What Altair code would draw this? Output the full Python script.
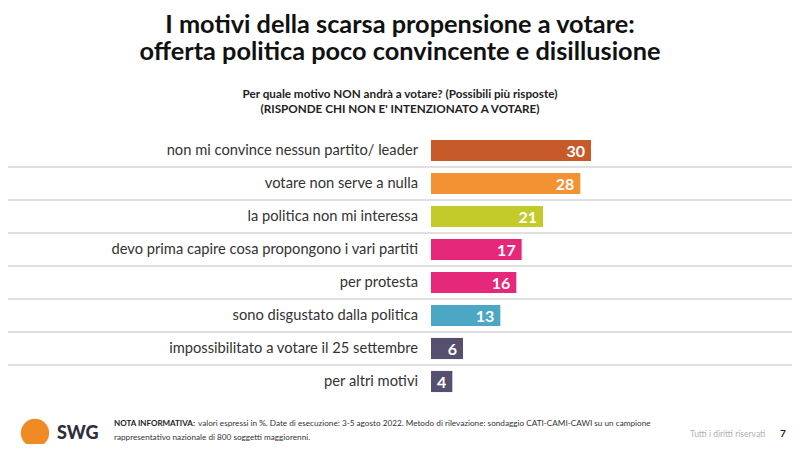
import altair as alt
import pandas as pd

# ---- data ----
motivi = [
    "non mi convince nessun partito/ leader",
    "votare non serve a nulla",
    "la politica non mi interessa",
    "devo prima capire cosa propongono i vari partiti",
    "per protesta",
    "sono disgustato dalla politica",
    "impossibilitato a votare il 25 settembre",
    "per altri motivi",
]
valori = [30, 28, 21, 17, 16, 13, 6, 4]

title_lines = [
    "I motivi della scarsa propensione a votare:",
    "offerta politica poco convincente e disillusione",
]
subtitle_lines = [
    "Per quale motivo NON andrà a votare? (Possibili più risposte)",
    "(RISPONDE CHI NON E' INTENZIONATO A VOTARE)",
]
nota_bold = "NOTA INFORMATIVA:"
nota_lines = [
    "valori espressi in %. Date di esecuzione: 3-5 agosto 2022. Metodo di rilevazione: sondaggio CATI-CAMI-CAWI su un campione",
    "rappresentativo nazionale di 800 soggetti maggiorenni.",
]
logo_text = "SWG"
diritti = "Tutti i diritti riservati"
pagina = "7"

# ---- style ----
bar_colors = ["#C65A28", "#F39232", "#C3CB2B", "#E6287A", "#E6287A", "#4BA7C4", "#574F6E", "#574F6E"]
FONT = "Lato"
OFF = 8  # page margin
W, H = 784, 436

df = pd.DataFrame({"motivo": motivi, "valore": valori})

x_scale = alt.Scale(domain=[0, 30], range=[431 - OFF, 591 - OFF], nice=False, zero=True)
y_scale = alt.Scale(domain=motivi, range=[134 - OFF, 398 - OFF], paddingInner=0, paddingOuter=0)
color_scale = alt.Scale(domain=motivi, range=bar_colors)

base = alt.Chart(df)

seps = base.transform_filter(alt.datum.motivo != motivi[0]).mark_rule(
    color="#d6d6d6", strokeWidth=1.5
).encode(
    y=alt.Y("motivo:N", scale=y_scale, axis=None, bandPosition=0),
    x=alt.value(0),
    x2=alt.value(W),
)

bars = base.mark_bar(height={"band": 0.64}).encode(
    y=alt.Y("motivo:N", scale=y_scale, axis=None),
    x=alt.X("valore:Q", scale=x_scale, axis=None),
    color=alt.Color("motivo:N", scale=color_scale, legend=None),
)

vals = base.mark_text(
    align="right", baseline="middle", dx=-6, dy=1, font=FONT, fontSize=16,
    fontWeight="bold", color="white"
).encode(
    y=alt.Y("motivo:N", scale=y_scale, axis=None),
    x=alt.X("valore:Q", scale=x_scale, axis=None),
    text=alt.Text("valore:Q"),
)

labels = base.mark_text(
    align="right", baseline="middle", font=FONT, fontSize=14.7, color="#333333"
).encode(
    y=alt.Y("motivo:N", scale=y_scale, axis=None),
    x=alt.value(418 - OFF),
    text="motivo:N",
)


def txt(s, x, y, size, weight="normal", color="#111111", align="center"):
    return alt.Chart(pd.DataFrame({"t": [s]})).mark_text(
        align=align, baseline="middle", fontSize=size, fontWeight=weight,
        color=color, font=FONT
    ).encode(x=alt.value(x - OFF), y=alt.value(y - OFF), text="t:N")


layers = [
    seps, bars, vals, labels,
    txt(title_lines[0], 400, 25, 25.3, "bold"),
    txt(title_lines[1], 400, 52, 25.3, "bold"),
    txt(subtitle_lines[0], 400, 94, 11.7, "bold", "#222222"),
    txt(subtitle_lines[1], 400, 109, 11.7, "bold", "#222222"),
    txt(nota_bold, 114, 424, 8.0, "bold", "#222222", "left"),
    txt(nota_lines[0], 198, 424, 8.2, "normal", "#333333", "left"),
    txt(nota_lines[1], 114, 438, 8.2, "normal", "#333333", "left"),
    txt(logo_text, 57, 434, 18, 900, "#2e2e3c", "left"),
    txt(diritti, 690, 434, 8.5, "normal", "#b0b0b0", "left"),
    txt(pagina, 783, 434, 10, "bold", "#222222", "center"),
]

logo = alt.Chart(pd.DataFrame({"t": [logo_text]})).mark_circle(
    size=800, color="#F08A24", opacity=1
).encode(x=alt.value(35 - OFF), y=alt.value(433 - OFF))

chart = alt.layer(logo, *layers).properties(
    width=W, height=H, autosize=alt.AutoSizeParams(type="none"), padding=0
).configure_view(stroke=None)

chart.save("out.html", embed_options={"renderer": "svg", "actions": False})
